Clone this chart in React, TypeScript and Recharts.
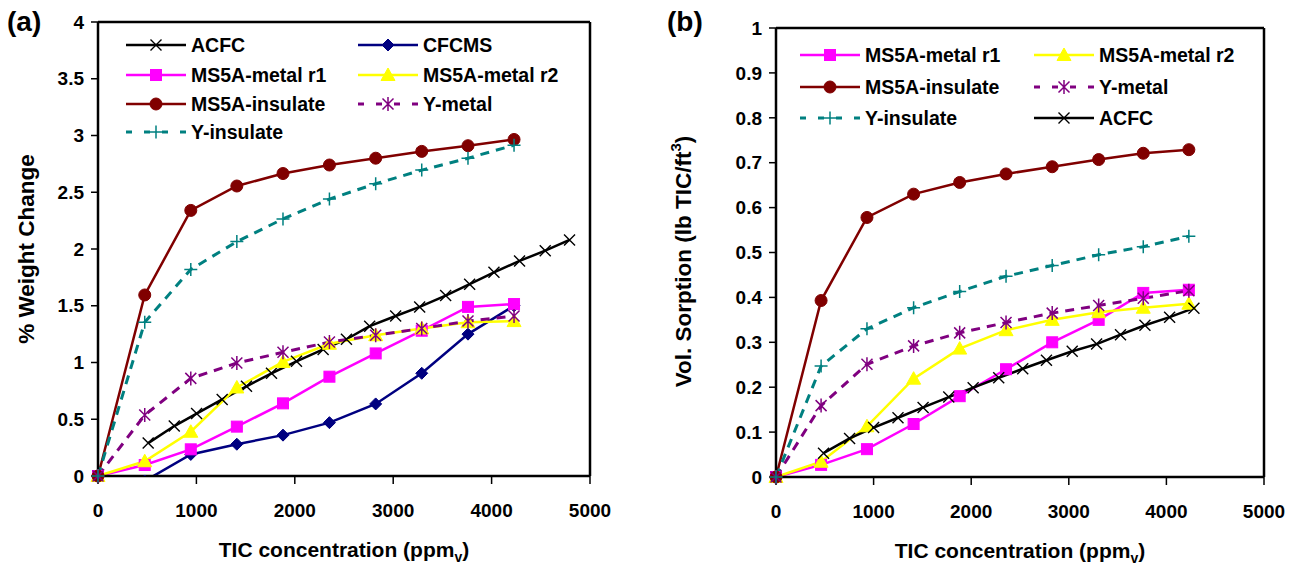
import React from 'react';
import { LineChart, Line, XAxis, YAxis, ReferenceLine } from 'recharts';

const FONT = '"Liberation Sans", Arial, Helvetica, sans-serif';

// ---------- Panel (a): % weight change ----------
const concA = [0, 475, 943, 1411, 1880, 2352, 2822, 3290, 3760, 4228];
const concACFC_A = [510, 775, 1002, 1262, 1509, 1763, 2017, 2288, 2525, 2761, 3025, 3269, 3533, 3777, 4024, 4284, 4545, 4792];
const wtACFC = [0.29, 0.44, 0.55, 0.675, 0.79, 0.905, 1.01, 1.115, 1.205, 1.32, 1.41, 1.49, 1.59, 1.69, 1.795, 1.895, 1.985, 2.08];
const wtCFCMS = [0, -0.044, 0.19, 0.28, 0.36, 0.47, 0.635, 0.905, 1.25, 1.5];
const wtMetalR1 = [0, 0.097, 0.235, 0.435, 0.64, 0.875, 1.08, 1.28, 1.49, 1.515];
const wtMetalR2 = [0, 0.13, 0.39, 0.78, 1.005, 1.165, 1.24, 1.3, 1.355, 1.365];
const wtMS5AInsulate = [0, 1.595, 2.34, 2.555, 2.665, 2.74, 2.8, 2.86, 2.91, 2.965];
const wtYMetal = [0, 0.537, 0.86, 0.995, 1.09, 1.18, 1.24, 1.3, 1.365, 1.41];
const wtYInsulate = [0, 1.355, 1.82, 2.065, 2.265, 2.44, 2.575, 2.695, 2.8, 2.915];
const yTicksA = [0, 0.5, 1, 1.5, 2, 2.5, 3, 3.5, 4];

// ---------- Panel (b): volumetric sorption ----------
const concB = [0, 462, 932, 1410, 1882, 2357, 2830, 3306, 3763, 4230];
const concACFC_B = [487, 754, 1000, 1250, 1507, 1770, 2020, 2282, 2528, 2771, 3035, 3285, 3530, 3780, 4033, 4282];
const volACFC = [0.053, 0.086, 0.11, 0.132, 0.155, 0.178, 0.199, 0.221, 0.241, 0.26, 0.28, 0.296, 0.317, 0.338, 0.356, 0.376];
const volMetalR1 = [0, 0.027, 0.062, 0.118, 0.18, 0.24, 0.3, 0.35, 0.41, 0.417];
const volMetalR2 = [0, 0.034, 0.113, 0.219, 0.286, 0.327, 0.35, 0.367, 0.377, 0.386];
const volMS5AInsulate = [0, 0.393, 0.578, 0.63, 0.656, 0.675, 0.691, 0.707, 0.721, 0.729];
const volYMetal = [0, 0.159, 0.251, 0.292, 0.321, 0.344, 0.365, 0.382, 0.398, 0.415];
const volYInsulate = [0, 0.247, 0.33, 0.377, 0.413, 0.447, 0.471, 0.495, 0.513, 0.536];
const yTicksB = [0, 0.1, 0.2, 0.3, 0.4, 0.5, 0.6, 0.7, 0.8, 0.9, 1];

const xTicks = [0, 1000, 2000, 3000, 4000, 5000];

type Kind = 'x' | 'diamond' | 'square' | 'triangle' | 'circle' | 'asterisk' | 'plus';
interface SeriesStyle { name: string; color: string; kind: Kind; dashed?: boolean }

const ACFC: SeriesStyle = { name: 'ACFC', color: '#000000', kind: 'x' };
const CFCMS: SeriesStyle = { name: 'CFCMS', color: '#000080', kind: 'diamond' };
const R1: SeriesStyle = { name: 'MS5A-metal r1', color: '#FF00FF', kind: 'square' };
const R2: SeriesStyle = { name: 'MS5A-metal r2', color: '#FFFF00', kind: 'triangle' };
const INS: SeriesStyle = { name: 'MS5A-insulate', color: '#800000', kind: 'circle' };
const YM: SeriesStyle = { name: 'Y-metal', color: '#800080', kind: 'asterisk', dashed: true };
const YI: SeriesStyle = { name: 'Y-insulate', color: '#008080', kind: 'plus', dashed: true };

const zip = (xs: number[], ys: number[]) => ys.map((y, i) => ({ x: xs[i], y }));

function marker(kind: Kind, cx: number, cy: number, color: string, key?: string) {
  switch (kind) {
    case 'x': {
      const s = 5.5;
      return <path key={key} d={`M${cx - s},${cy - s}L${cx + s},${cy + s}M${cx - s},${cy + s}L${cx + s},${cy - s}`} stroke={color} strokeWidth={1.4} fill="none" />;
    }
    case 'diamond': {
      const d = 6;
      return <path key={key} d={`M${cx},${cy - d}L${cx + d},${cy}L${cx},${cy + d}L${cx - d},${cy}Z`} fill={color} stroke={color} strokeWidth={1} />;
    }
    case 'square': {
      const s = 5.5;
      return <rect key={key} x={cx - s} y={cy - s} width={2 * s} height={2 * s} fill={color} stroke={color} strokeWidth={1} />;
    }
    case 'triangle': {
      return <path key={key} d={`M${cx},${cy - 7}L${cx + 7},${cy + 5.5}L${cx - 7},${cy + 5.5}Z`} fill={color} stroke={color} strokeWidth={1} />;
    }
    case 'circle':
      return <circle key={key} cx={cx} cy={cy} r={6} fill={color} stroke={color} strokeWidth={1} />;
    case 'asterisk': {
      const s = 5.5;
      return <path key={key} d={`M${cx - s},${cy - s}L${cx + s},${cy + s}M${cx - s},${cy + s}L${cx + s},${cy - s}M${cx},${cy - 7}L${cx},${cy + 7}`} stroke={color} strokeWidth={1.5} fill="none" />;
    }
    case 'plus':
    default: {
      const s = 6.5;
      return <path key={key} d={`M${cx - s},${cy}L${cx + s},${cy}M${cx},${cy - s}L${cx},${cy + s}`} stroke={color} strokeWidth={1.5} fill="none" />;
    }
  }
}

function series(key: string, st: SeriesStyle, data: { x: number; y: number }[], yAxisId: string | number = 0) {
  return (
    <Line
      key={key}
      data={data}
      dataKey="y"
      name={st.name}
      type="linear"
      yAxisId={yAxisId}
      stroke={st.color}
      strokeWidth={st.dashed ? 3 : 2.5}
      strokeDasharray={st.dashed ? '9 7' : undefined}
      isAnimationActive={false}
      activeDot={false}
      dot={(p: any) => {
        if (p.cx == null || p.cy == null) return <g key={`${key}-${p.index}`} />;
        return marker(st.kind, p.cx, p.cy, st.color, `${key}-${p.index}`);
      }}
    />
  );
}

const tickStyle = { fill: '#000', fontSize: 19, fontWeight: 700, fontFamily: FONT };
const axisLine = { stroke: '#000', strokeWidth: 2.5 };
const tickLine = { stroke: '#000', strokeWidth: 1.5 };

const xTitle = (props: any) => {
  const vb = props.viewBox || {};
  return (
    <text x={vb.x + vb.width / 2} y={vb.y + 81} textAnchor="middle" fill="#000" style={{ fontSize: 21, fontWeight: 700, fontFamily: FONT }}>
      TIC concentration (ppm<tspan dy={5} fontSize={14}>v</tspan><tspan dy={-5}>)</tspan>
    </text>
  );
};

const yTitleA = (props: any) => {
  const vb = props.viewBox || {};
  const cx = vb.x + 21;
  const cy = vb.y + vb.height / 2;
  return (
    <text transform={`translate(${cx},${cy}) rotate(-90)`} textAnchor="middle" dominantBaseline="central" fill="#000" style={{ fontSize: 22.5, fontWeight: 700, fontFamily: FONT }}>
      % Weight Change
    </text>
  );
};

const yTitleB = (props: any) => {
  const vb = props.viewBox || {};
  const cx = vb.x + 28;
  const cy = vb.y + vb.height / 2 + 9;
  return (
    <text transform={`translate(${cx},${cy}) rotate(-90)`} textAnchor="middle" dominantBaseline="central" fill="#000" style={{ fontSize: 22.5, fontWeight: 700, fontFamily: FONT }}>
      Vol. Sorption (lb TIC/ft<tspan dy={-8} fontSize={15}>3</tspan><tspan dy={8}>)</tspan>
    </text>
  );
};

function LegendItem({ x, y, st }: { x: number; y: number; st: SeriesStyle }) {
  return (
    <div style={{ position: 'absolute', left: x, top: y - 12, height: 24, display: 'flex', alignItems: 'center', whiteSpace: 'nowrap' }}>
      <svg width={60} height={24} style={{ display: 'block' }}>
        <line x1={0} x2={60} y1={12} y2={12} stroke={st.color} strokeWidth={st.dashed ? 3 : 2.5} strokeDasharray={st.dashed ? '6 12' : undefined} />
        {marker(st.kind, 30, 12, st.color)}
      </svg>
      <span style={{ marginLeft: 5, fontSize: 19.5, fontWeight: 700, lineHeight: '24px', fontFamily: FONT, color: '#000' }}>{st.name}</span>
    </div>
  );
}

const legendA: [number, number, SeriesStyle][] = [
  [126, 44.5, ACFC], [358, 44.5, CFCMS],
  [126, 74.5, R1], [358, 74.5, R2],
  [126, 103.5, INS], [358, 103.5, YM],
  [126, 132, YI],
];
const legendB: [number, number, SeriesStyle][] = [
  [800, 55, R1], [1034, 55, R2],
  [800, 87, INS], [1034, 87, YM],
  [800, 118, YI], [1034, 118, ACFC],
];

export default function App() {
  return (
    <div style={{ position: 'absolute', left: 0, top: 0, width: 1299, height: 567, background: '#fff', overflow: 'hidden', fontFamily: FONT }}>
      <div style={{ position: 'absolute', left: 0, top: 0 }}>
        <LineChart width={650} height={567} margin={{ top: 22, right: 60, bottom: 0, left: 5 }}>
          <XAxis type="number" dataKey="x" domain={[0, 5000]} ticks={xTicks} interval={0} height={91}
            tickSize={8} tickMargin={20} axisLine={axisLine} tickLine={tickLine} tick={tickStyle} label={xTitle} />
          <YAxis type="number" domain={[0, 4]} ticks={yTicksA} interval={0} width={93}
            tickSize={7} tickMargin={7} axisLine={axisLine} tickLine={tickLine} tick={tickStyle} label={yTitleA} />
          <YAxis yAxisId="cf" type="number" domain={[0, 4]} allowDataOverflow hide />
          <ReferenceLine y={4} stroke="#000" strokeWidth={2.5} />
          <ReferenceLine x={5000} stroke="#000" strokeWidth={2.5} />
          {series('a-acfc', ACFC, zip(concACFC_A, wtACFC))}
          {series('a-cfcms', CFCMS, zip(concA, wtCFCMS), 'cf')}
          {series('a-r1', R1, zip(concA, wtMetalR1))}
          {series('a-r2', R2, zip(concA, wtMetalR2))}
          {series('a-ins', INS, zip(concA, wtMS5AInsulate))}
          {series('a-ym', YM, zip(concA, wtYMetal))}
          {series('a-yi', YI, zip(concA, wtYInsulate))}
        </LineChart>
      </div>
      <div style={{ position: 'absolute', left: 650, top: 0 }}>
        <LineChart width={649} height={567} margin={{ top: 28, right: 35, bottom: 0, left: 5 }}>
          <XAxis type="number" dataKey="x" domain={[0, 5000]} ticks={xTicks} interval={0} height={90}
            tickSize={8} tickMargin={20} axisLine={axisLine} tickLine={tickLine} tick={tickStyle} label={xTitle} />
          <YAxis type="number" domain={[0, 1]} ticks={yTicksB} interval={0} width={121}
            tickSize={7} tickMargin={7} axisLine={axisLine} tickLine={tickLine} tick={tickStyle} label={yTitleB} />
          <ReferenceLine y={1} stroke="#000" strokeWidth={2.5} />
          <ReferenceLine x={5000} stroke="#000" strokeWidth={2.5} />
          {series('b-r1', R1, zip(concB, volMetalR1))}
          {series('b-r2', R2, zip(concB, volMetalR2))}
          {series('b-ins', INS, zip(concB, volMS5AInsulate))}
          {series('b-ym', YM, zip(concB, volYMetal))}
          {series('b-yi', YI, zip(concB, volYInsulate))}
          {series('b-acfc', ACFC, zip(concACFC_B, volACFC))}
        </LineChart>
      </div>
      {legendA.map(([x, y, st]) => <LegendItem key={`la-${st.name}`} x={x} y={y} st={st} />)}
      {legendB.map(([x, y, st]) => <LegendItem key={`lb-${st.name}`} x={x} y={y} st={st} />)}
      <div style={{ position: 'absolute', left: 7, top: 5, fontSize: 28, fontWeight: 700, lineHeight: '34px', fontFamily: FONT }}>(a)</div>
      <div style={{ position: 'absolute', left: 667, top: 5, fontSize: 28, fontWeight: 700, lineHeight: '34px', fontFamily: FONT }}>(b)</div>
    </div>
  );
}
